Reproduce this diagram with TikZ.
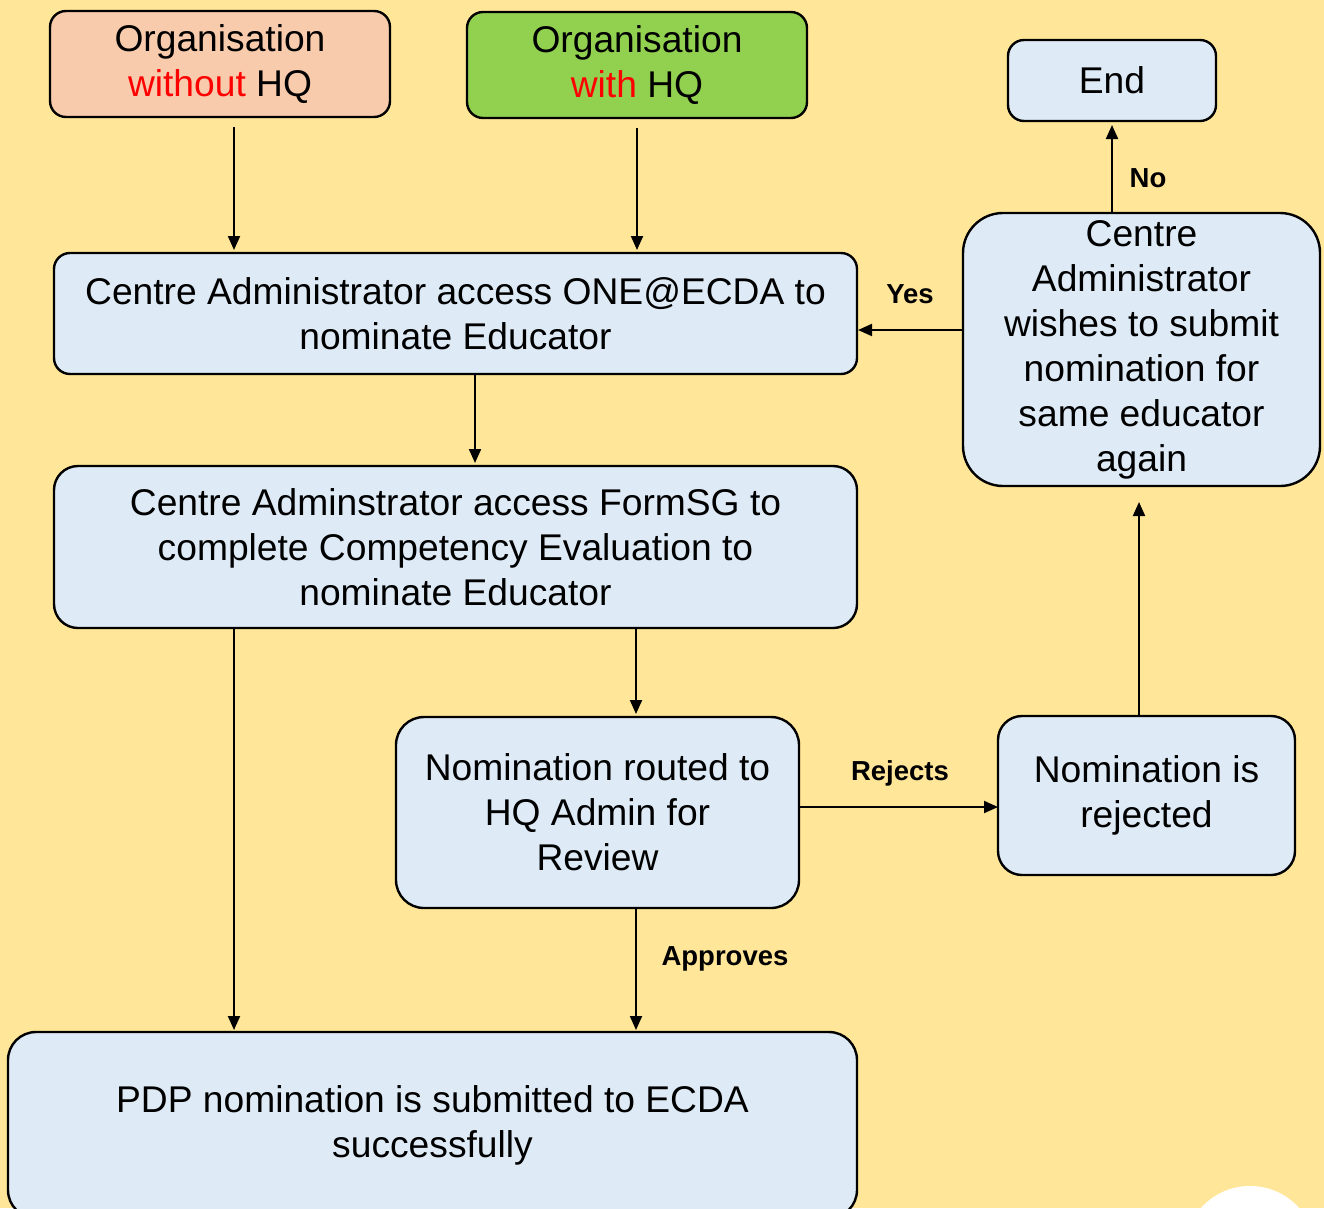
\documentclass[tikz,border=0pt]{standalone}
\usepackage{fontspec}
\setmainfont{Liberation Sans}
\usetikzlibrary{arrows.meta}
\definecolor{bg}{HTML}{FFE699}
\definecolor{boxblue}{HTML}{DEEBF7}
\definecolor{peach}{HTML}{F8CBAD}
\definecolor{lgreen}{HTML}{92D050}
\definecolor{myred}{HTML}{FF0000}
\begin{document}
\begin{tikzpicture}[x=1pt,y=-1pt,
  box/.style={draw=black, line width=2.4pt, fill=boxblue, rounded corners=16pt,
    align=center, inner sep=0pt, font=\fontsize{37.2}{45}\selectfont},
  arr/.style={line width=2pt, -{Triangle[length=14pt,width=12pt]}},
  lbl/.style={font=\fontsize{27.5}{30}\selectfont\bfseries, inner sep=0pt}]
\useasboundingbox (0,0) rectangle (1324,1208);
\fill[bg] (0,0) rectangle (1324,1208);
\begin{scope}
\clip (0,0) rectangle (1324,1208);
\fill[white] (1250,1252) circle (66);
\node[box, minimum width=849pt, minimum height=186pt, rounded corners=28pt] (pdp) at (432.5,1125) {PDP nomination is submitted to ECDA\\successfully};
\end{scope}

\node[box, fill=peach, minimum width=340pt, minimum height=106pt] (owo) at (220,64) {Organisation\\\textcolor{myred}{without} HQ};
\node[box, fill=lgreen, minimum width=340pt, minimum height=106pt] (ow) at (637,65) {Organisation\\\textcolor{myred}{with} HQ};
\node[box, minimum width=208pt, minimum height=81pt] (end) at (1112,80.5) {End};
\node[box, minimum width=803pt, minimum height=121pt] (one) at (455.5,313.5) {Centre Administrator access ONE@ECDA to\\nominate Educator};
\node[box, minimum width=357pt, minimum height=273pt, rounded corners=40pt] (wish) at (1141.5,349.5) {Centre\\Administrator\\wishes to submit\\nomination for\\same educator\\again};
\node[box, minimum width=803pt, minimum height=162pt, rounded corners=24pt] (form) at (455.5,547) {Centre Adminstrator access FormSG to\\complete Competency Evaluation to\\nominate Educator};
\node[box, minimum width=403pt, minimum height=191pt, rounded corners=28pt] (route) at (597.5,812.5) {Nomination routed to\\HQ Admin for\\Review};
\node[box, minimum width=297pt, minimum height=159pt, rounded corners=24pt] (rej) at (1146.5,795.5) {Nomination is\\rejected};

\coordinate (a1s) at (234,127); \coordinate (a1e) at (234,250);
\coordinate (a2s) at (637,128); \coordinate (a2e) at (637,250);
\draw[arr] (a1s) -- (a1e);
\draw[arr] (a2s) -- (a2e);
\draw[arr] (one.south -| 475,0) -- (475,463);
\draw[arr] (form.south -| 234,0) -- (234,1030);
\draw[arr] (form.south -| 636,0) -- (636,714);
\draw[arr] (route.south -| 636,0) -- (636,1030);
\draw[arr] (route.east |- 0,807) -- (998,807);
\draw[arr] (rej.north -| 1139,0) -- (1139,502);
\draw[arr] (wish.north -| 1112,0) -- (1112,125);
\draw[arr] (wish.west |- 0,330) -- (858,330);

\node[lbl] (yes) at (910,294) {Yes};
\node[lbl] (no) at (1148,178) {No};
\node[lbl] (rejects) at (900,773) {Rejects};
\node[lbl] (approves) at (725,959) {Approves};
\end{tikzpicture}
\end{document}
